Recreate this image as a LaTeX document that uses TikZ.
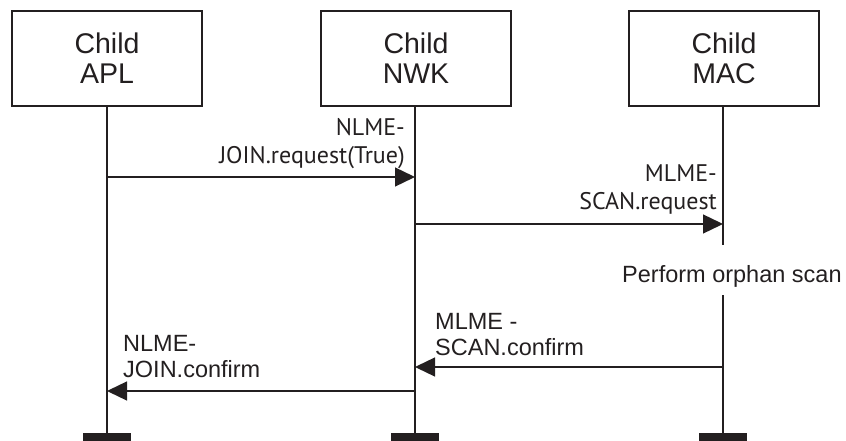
\documentclass[tikz,border=0pt]{standalone}
\usepackage{fontspec}
\setmainfont{Liberation Sans}
\newfontfamily\labfont{PT Sans}
\usetikzlibrary{arrows.meta}
\definecolor{ink}{HTML}{231F20}
\begin{document}
\begin{tikzpicture}[x=1pt,y=-1pt,
  box/.style={draw=ink,line width=1.4pt,minimum width=190pt,minimum height=95pt,inner sep=0pt,
    font=\fontsize{28.5}{30}\selectfont,align=center,text=ink},
  life/.style={draw=ink,line width=1.3pt},
  msg/.style={draw=ink,line width=1.3pt,-{Triangle[length=20pt,width=19pt]}},
  bar/.style={fill=ink,minimum width=48pt,minimum height=8pt,inner sep=0pt},
  uplab/.style={font=\labfont\fontsize{24}{28.5}\selectfont,text=ink,inner sep=0pt,align=right},
  lolab/.style={font=\fontsize{23.5}{26.5}\selectfont,text=ink,inner sep=0pt,align=left}]
\useasboundingbox (0,0) rectangle (846,441);
% boxes
\node[box] (apl) at (107,58.5) {Child\\APL};
\node[box] (nwk) at (416,58.5) {Child\\NWK};
\node[box] (mac) at (724,58.5) {Child\\MAC};
% bars
\node[bar] (barA) at (107,437) {};
\node[bar] (barN) at (415,437) {};
\node[bar] (barM) at (723,437) {};
% scan text
\node[lolab,anchor=base west] (scan) at (622,282) {Perform orphan scan};
\coordinate (macGapTop) at (723,245);
\coordinate (macGapBot) at (723,295);
% lifelines
\draw[life] (107,106) -- (barA.north);
\draw[life] (415,106) -- (barN.north);
\draw[life] (723,106) -- (macGapTop);
\draw[life] (macGapBot) -- (barM.north);
% message points
\coordinate (m1a) at (107,177); \coordinate (m1b) at (415,177);
\coordinate (m2a) at (415,224); \coordinate (m2b) at (723,224);
\coordinate (m3a) at (723,367); \coordinate (m3b) at (415,367);
\coordinate (m4a) at (415,391); \coordinate (m4b) at (107,391);
\draw[msg] (m1a) -- (m1b);
\draw[msg] (m2a) -- (m2b);
\draw[msg] (m3a) -- (m3b);
\draw[msg] (m4a) -- (m4b);
% labels
\node[uplab,anchor=north east] (l1) at (405,118) {NLME-\\JOIN.request(True)};
\node[uplab,anchor=north east] (l2) at (717,164) {MLME-\\SCAN.request};
\node[lolab,anchor=north west] (l3) at (435,313) {MLME -\\SCAN.confirm};
\node[lolab,anchor=north west] (l4) at (123,335) {NLME-\\JOIN.confirm};
\end{tikzpicture}
\end{document}
